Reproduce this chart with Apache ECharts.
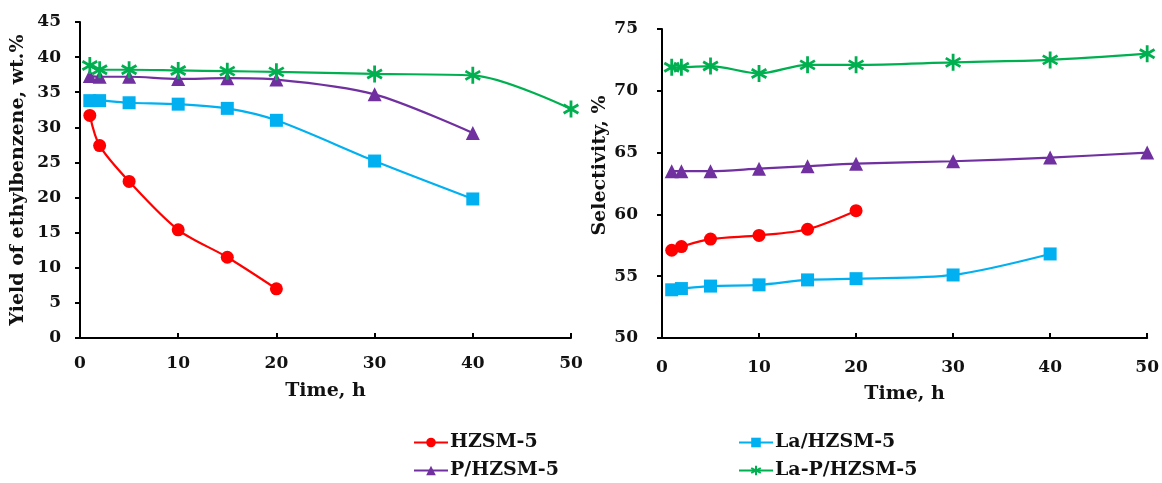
<!DOCTYPE html>
<html><head><meta charset="utf-8">
<script src="https://cdn.jsdelivr.net/npm/echarts@6/dist/echarts.min.js"></script>
<style>html,body{margin:0;padding:0;background:#fff}#c{width:1162px;height:483px}</style>
</head><body><div id="c"></div>
<script>
// ---- data ----
const seriesNames = ['HZSM-5', 'La/HZSM-5', 'P/HZSM-5', 'La-P/HZSM-5'];
// Left panel: Yield of ethylbenzene, wt.%
const yieldHZSM = [[1, 31.7], [2, 27.4], [5, 22.3], [10, 15.4], [15, 11.5], [20, 7.0]];
const yieldLa = [[1, 33.8], [2, 33.8], [5, 33.5], [10, 33.3], [15, 32.7], [20, 31.0], [30, 25.2], [40, 19.8]];
const yieldP = [[1, 37.3], [2, 37.2], [5, 37.2], [10, 36.9], [15, 37.0], [20, 36.8], [30, 34.7], [40, 29.2]];
const yieldLaP = [[1, 38.8], [2, 38.2], [5, 38.2], [10, 38.1], [15, 38.0], [20, 37.9], [30, 37.6], [40, 37.4], [50, 32.6]];
// Right panel: Selectivity, %
const selHZSM = [[1, 57.1], [2, 57.4], [5, 58.0], [10, 58.3], [15, 58.8], [20, 60.3]];
const selLa = [[1, 53.9], [2, 54.0], [5, 54.2], [10, 54.3], [15, 54.7], [20, 54.8], [30, 55.1], [40, 56.8]];
const selP = [[1, 63.5], [2, 63.5], [5, 63.5], [10, 63.7], [15, 63.9], [20, 64.1], [30, 64.3], [40, 64.6], [50, 65.0]];
const selLaP = [[1, 71.9], [2, 71.9], [5, 72.0], [10, 71.4], [15, 72.1], [20, 72.1], [30, 72.3], [40, 72.5], [50, 73.0]];

const FONT = 'DejaVu Serif';
const colors = ['#ff0000', '#00b0f0', '#7030a0', '#00b050'];
const ASTER = 'path://M0,-1L0,1M-0.866,-0.5L0.866,0.5M-0.866,0.5L0.866,-0.5';
const symbols = ['circle', 'rect', 'triangle', ASTER];
const sizes = [13, 13, 14, 17];

function mkSeries(i, data, axisIdx) {
  const s = {
    name: seriesNames[i], type: 'line', data: data, smooth: 0.3,
    xAxisIndex: axisIdx, yAxisIndex: axisIdx,
    symbol: symbols[i], symbolSize: sizes[i], symbolKeepAspect: true,
    lineStyle: { color: colors[i], width: 2.2 },
    itemStyle: { color: colors[i] },
    z: 2 + i
  };
  if (i === 3) {
    s.itemStyle = { color: 'none', borderColor: colors[i], borderWidth: 2.8 };
  }
  return s;
}

const axisLineStyle = { show: true, lineStyle: { color: '#000', width: 2 } };
const labelStyle = { color: '#111', fontFamily: FONT, fontWeight: 'bold', fontSize: 17 };
const nameStyle = { color: '#111', fontFamily: FONT, fontWeight: 'bold', fontSize: 19 };

function xAx(grid, margin, gap) {
  return {
    type: 'value', gridIndex: grid, min: 0, max: 50, interval: 10,
    axisLine: axisLineStyle, axisTick: { show: true, inside: true, length: 5, lineStyle: { color: '#000', width: 2 } },
    splitLine: { show: false }, axisLabel: Object.assign({ margin: margin }, labelStyle),
    name: 'Time, h', nameLocation: 'middle', nameGap: gap, nameTextStyle: nameStyle
  };
}
function yAx(grid, min, max, name, margin, gap, pad) {
  return {
    type: 'value', gridIndex: grid, min: min, max: max, interval: 5,
    axisLine: axisLineStyle, axisTick: { show: true, length: 5, lineStyle: { color: '#000', width: 2 } },
    splitLine: { show: false }, axisLabel: Object.assign({ margin: margin }, labelStyle),
    name: name, nameLocation: 'middle', nameGap: gap,
    nameTextStyle: Object.assign({ padding: pad }, nameStyle)
  };
}

const legendBase = { orient: 'horizontal', itemWidth: 34, itemHeight: 12, itemGap: 4,
  textStyle: { color: '#111', fontFamily: FONT, fontWeight: 'bold', fontSize: 19, padding: [0, 0, 0, -3] },
  selectedMode: false };

const option = {
  animation: false,
  backgroundColor: '#fff',
  grid: [
    { left: 80, top: 22, width: 491, height: 316 },
    { left: 662, top: 29, width: 489, height: 309 }
  ],
  xAxis: [xAx(0, 17, 44), xAx(1, 21, 47)],
  yAxis: [
    yAx(0, 0, 45, 'Yield of ethylbenzene, wt.%', 19, 52, [0, 0, 0, 0]),
    yAx(1, 50, 75, 'Selectivity, %', 24, 52, [0, 0, 0, 36])
  ],
  legend: [
    Object.assign({ data: [seriesNames[0]], left: 408, top: 428 }, legendBase),
    Object.assign({ data: [seriesNames[1]], left: 733, top: 428 }, legendBase),
    Object.assign({ data: [seriesNames[2]], left: 408, top: 456 }, legendBase),
    Object.assign({ data: [seriesNames[3]], left: 733, top: 456 }, legendBase)
  ],
  series: [
    mkSeries(0, yieldHZSM, 0), mkSeries(1, yieldLa, 0), mkSeries(2, yieldP, 0), mkSeries(3, yieldLaP, 0),
    mkSeries(0, selHZSM, 1), mkSeries(1, selLa, 1), mkSeries(2, selP, 1), mkSeries(3, selLaP, 1)
  ]
};
echarts.init(document.getElementById('c'), null, { renderer: 'canvas' }).setOption(option);
</script></body></html>
